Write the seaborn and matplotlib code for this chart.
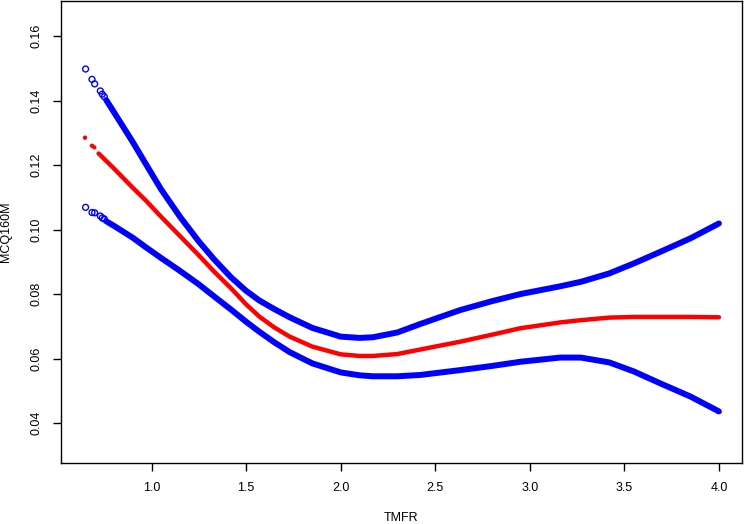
import matplotlib
matplotlib.use("Agg")
import matplotlib.pyplot as plt
import seaborn as sns

# smooth fit of MCQ160M against TMFR with its confidence band
tmfr = [0.76, 0.80, 0.90, 0.97, 1.05, 1.15, 1.25, 1.33, 1.42, 1.50, 1.57, 1.65,
        1.73, 1.85, 2.00, 2.10, 2.17, 2.30, 2.42, 2.63, 2.80, 2.95, 3.16, 3.27,
        3.42, 3.55, 3.69, 3.85, 4.00]
upper = [0.1402, 0.1365, 0.1272, 0.1203, 0.1125, 0.1040, 0.0963, 0.0908, 0.0852,
         0.0810, 0.0780, 0.0753, 0.0728, 0.0695, 0.0668, 0.0664, 0.0666, 0.0681,
         0.0707, 0.0750, 0.0778, 0.0800, 0.0824, 0.0838, 0.0864, 0.0895, 0.0931,
         0.0973, 0.1019]
lower = [0.1026, 0.1012, 0.0975, 0.0945, 0.0912, 0.0872, 0.0830, 0.0793, 0.0752,
         0.0714, 0.0683, 0.0650, 0.0620, 0.0585, 0.0557, 0.0548, 0.0545, 0.0545,
         0.0549, 0.0564, 0.0577, 0.0590, 0.0603, 0.0603, 0.0588, 0.0560, 0.0523,
         0.0482, 0.0436]

tmfr_fit = [0.72, 0.80, 0.90, 0.97, 1.05, 1.15, 1.25, 1.33, 1.42, 1.50, 1.57, 1.65,
            1.73, 1.85, 2.00, 2.10, 2.17, 2.30, 2.42, 2.63, 2.80, 2.95, 3.16, 3.27,
            3.42, 3.55, 3.69, 3.85, 4.00]
fit = [0.1236, 0.1190, 0.1130, 0.1090, 0.1040, 0.0980, 0.0920, 0.0870, 0.0818,
       0.0768, 0.0730, 0.0696, 0.0668, 0.0637, 0.0613, 0.0608, 0.0608, 0.0614,
       0.0628, 0.0652, 0.0674, 0.0694, 0.0712, 0.0719, 0.0727, 0.0729, 0.0729,
       0.0729, 0.0728]

# the few isolated observations at the low end
tmfr_low = [0.651, 0.685, 0.699, 0.729, 0.739, 0.750]
upper_low = [0.1498, 0.1466, 0.1452, 0.1430, 0.1420, 0.1412]
lower_low = [0.1069, 0.1053, 0.1052, 0.1042, 0.1036, 0.1033]
tmfr_fit_low = [0.648, 0.685, 0.697]
fit_low = [0.1285, 0.1260, 0.1255]

sns.set_theme(style="ticks")
plt.rcParams["font.family"] = ["Liberation Sans", "DejaVu Sans"]

fig = plt.figure(figsize=(7.44, 5.24), dpi=100)
ax = fig.add_axes([61 / 744, 61 / 524, 681 / 744, 462 / 524])

line_kw = dict(solid_joinstyle="round", solid_capstyle="round")
sns.lineplot(x=tmfr, y=upper, color="blue", linewidth=4.3, ax=ax, **line_kw)
sns.lineplot(x=tmfr, y=lower, color="blue", linewidth=4.3, ax=ax, **line_kw)
sns.lineplot(x=tmfr_fit, y=fit, color="red", linewidth=3.2, ax=ax, **line_kw)

sns.scatterplot(x=tmfr_low, y=upper_low, facecolor="none", edgecolor="blue",
                s=18, linewidth=1, ax=ax)
sns.scatterplot(x=tmfr_low, y=lower_low, facecolor="none", edgecolor="blue",
                s=18, linewidth=1, ax=ax)
sns.scatterplot(x=tmfr_fit_low, y=fit_low, color="red", edgecolor="none",
                s=10, ax=ax)

ax.set_xlim(0.521, 4.122)
ax.set_ylim(0.0276, 0.1709)
ax.set_xticks([1.0, 1.5, 2.0, 2.5, 3.0, 3.5, 4.0])
ax.set_yticks([0.04, 0.06, 0.08, 0.10, 0.12, 0.14, 0.16])
ax.set_xticklabels(["1.0", "1.5", "2.0", "2.5", "3.0", "3.5", "4.0"])
ax.set_yticklabels(["0.04", "0.06", "0.08", "0.10", "0.12", "0.14", "0.16"],
                   rotation=90, va="center")
ax.tick_params(axis="both", length=6, width=1, color="black", labelsize=9,
               labelcolor="black")
ax.tick_params(axis="x", pad=8)
ax.tick_params(axis="y", pad=7)

for side in ["top", "right", "bottom", "left"]:
    ax.spines[side].set_visible(True)
    ax.spines[side].set_color("black")
    ax.spines[side].set_linewidth(1.0)

ax.set_xlabel("TMFR", fontsize=9, color="black")
ax.set_ylabel("MCQ160M", fontsize=9, color="black")
ax.xaxis.set_label_coords(0.5, -0.105)
ax.yaxis.set_label_coords(-0.072, 0.5)

fig.savefig("out.png", dpi=100)
